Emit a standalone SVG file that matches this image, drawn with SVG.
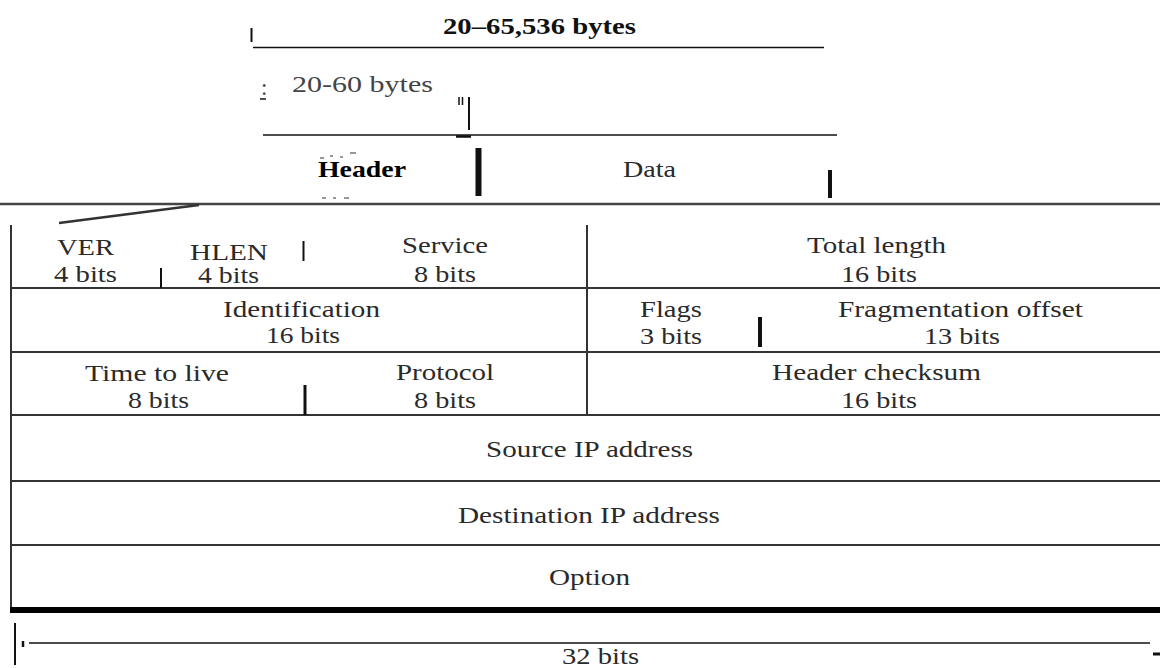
<svg xmlns="http://www.w3.org/2000/svg" width="1160" height="668" viewBox="0 0 1160 668">
<style>
text{font-family:"Liberation Serif","Times New Roman",serif;font-size:23px;fill:#2a2a2a}
.b{font-weight:bold;fill:#111}
.g{fill:#444}
.ln{stroke:#333;stroke-width:2;fill:none}
.k{stroke:#111;fill:none}
</style>
<rect width="1160" height="668" fill="#fff"/>
<g id="dimensions">
<line class="k" x1="251.5" y1="28" x2="251.5" y2="42" stroke-width="2"/>
<line class="k" x1="253" y1="47.5" x2="824" y2="47.5" stroke-width="1.5"/>
<text class="b" x="443" y="34" textLength="193" lengthAdjust="spacingAndGlyphs">20–65,536 bytes</text>
<text class="g" x="261" y="95" font-size="20">:</text>
<line class="k" x1="260" y1="99" x2="266" y2="99" stroke-width="1.5"/>
<text class="g" x="292" y="92" textLength="141" lengthAdjust="spacingAndGlyphs">20-60 bytes</text>
<line class="k" x1="459" y1="97" x2="459" y2="105" stroke-width="1.5"/>
<line class="k" x1="462.5" y1="97" x2="462.5" y2="105" stroke-width="1.5"/>
<line class="k" x1="469" y1="97" x2="469" y2="130" stroke-width="2"/>
<line class="k" x1="263" y1="135" x2="837" y2="135" stroke-width="1.5"/>
<line class="k" x1="456" y1="136.5" x2="471" y2="136.5" stroke-width="2.5"/>
</g>
<g id="datagram">
<line class="k" x1="478.5" y1="148" x2="478.5" y2="196" stroke-width="6"/>
<line class="k" x1="830" y1="170" x2="830" y2="198" stroke-width="4"/>
<g id="header-label">
<text x="318" y="177" textLength="88" lengthAdjust="spacingAndGlyphs" style="font-weight:bold;fill:#000">Header</text>
<path d="M320 158h4M330 156h3M340 157h3M350 153h6M322 198h4M333 198h3M344 198h5" stroke="#777" stroke-width="1.5" fill="none"/>
</g>
<text x="623" y="177" textLength="53" lengthAdjust="spacingAndGlyphs">Data</text>
</g>
<g id="connectors">
<line x1="0" y1="204" x2="1160" y2="204" stroke="#444" stroke-width="2.5"/>
<line x1="59" y1="223" x2="199" y2="205" stroke="#333" stroke-width="2.5"/>
</g>
<g id="frame">
<line class="ln" x1="11" y1="225" x2="11" y2="613"/>
<line class="ln" x1="587" y1="225" x2="587" y2="415"/>
<line class="ln" x1="11" y1="288" x2="1160" y2="288"/>
<line class="ln" x1="11" y1="352" x2="1160" y2="352"/>
<line class="ln" x1="11" y1="415" x2="1160" y2="415"/>
<line class="ln" x1="11" y1="481" x2="1160" y2="481"/>
<line class="ln" x1="11" y1="545" x2="1160" y2="545"/>
<line x1="10" y1="610" x2="1160" y2="610" stroke="#000" stroke-width="6"/>
<line class="k" x1="161" y1="268" x2="161" y2="288" stroke-width="2"/>
<line class="k" x1="303.5" y1="241" x2="303.5" y2="261" stroke-width="2"/>
<line class="k" x1="305" y1="385" x2="305" y2="415" stroke-width="3"/>
<line class="k" x1="760" y1="317" x2="760" y2="347" stroke-width="4"/>
</g>
<g id="ver"><text x="57" y="255" textLength="57" lengthAdjust="spacingAndGlyphs">VER</text><text x="54" y="282" textLength="63" lengthAdjust="spacingAndGlyphs">4 bits</text></g>
<g id="hlen"><text x="190" y="260" textLength="78" lengthAdjust="spacingAndGlyphs">HLEN</text><text x="198" y="283" textLength="61" lengthAdjust="spacingAndGlyphs" font-size="21">4 bits</text></g>
<g id="service"><text x="402" y="253" textLength="86" lengthAdjust="spacingAndGlyphs">Service</text><text x="414" y="282" textLength="62" lengthAdjust="spacingAndGlyphs">8 bits</text></g>
<g id="total-length"><text x="807" y="253" textLength="139" lengthAdjust="spacingAndGlyphs">Total length</text><text x="841" y="282" textLength="76" lengthAdjust="spacingAndGlyphs">16 bits</text></g>
<g id="identification"><text x="223" y="317" textLength="157" lengthAdjust="spacingAndGlyphs">Identification</text><text x="266" y="343" textLength="74" lengthAdjust="spacingAndGlyphs">16 bits</text></g>
<g id="flags"><text x="640" y="317" textLength="62" lengthAdjust="spacingAndGlyphs">Flags</text><text x="640" y="344" textLength="62" lengthAdjust="spacingAndGlyphs">3 bits</text></g>
<g id="fragmentation-offset"><text x="838" y="317" textLength="245" lengthAdjust="spacingAndGlyphs">Fragmentation offset</text><text x="924" y="344" textLength="76" lengthAdjust="spacingAndGlyphs">13 bits</text></g>
<g id="ttl"><text x="85" y="381" textLength="144" lengthAdjust="spacingAndGlyphs">Time to live</text><text x="128" y="408" textLength="61" lengthAdjust="spacingAndGlyphs">8 bits</text></g>
<g id="protocol"><text x="396" y="380" textLength="98" lengthAdjust="spacingAndGlyphs">Protocol</text><text x="414" y="408" textLength="62" lengthAdjust="spacingAndGlyphs">8 bits</text></g>
<g id="header-checksum"><text x="772" y="380" textLength="209" lengthAdjust="spacingAndGlyphs">Header checksum</text><text x="841" y="408" textLength="76" lengthAdjust="spacingAndGlyphs">16 bits</text></g>
<g id="source-ip"><text x="486" y="457" textLength="207" lengthAdjust="spacingAndGlyphs">Source IP address</text></g>
<g id="destination-ip"><text x="458" y="523" textLength="262" lengthAdjust="spacingAndGlyphs">Destination IP address</text></g>
<g id="option"><text x="549" y="585" textLength="81" lengthAdjust="spacingAndGlyphs">Option</text></g>
<g id="width-32">
<line class="k" x1="15" y1="623" x2="15" y2="665" stroke-width="2"/>
<line class="k" x1="23" y1="641" x2="23" y2="647" stroke-width="2.5"/>
<line class="k" x1="29" y1="643" x2="1150" y2="643" stroke-width="1.5"/>
<line class="k" x1="1153" y1="654" x2="1160" y2="654" stroke-width="3"/>
<text x="562" y="664" textLength="77" lengthAdjust="spacingAndGlyphs">32 bits</text>
</g>
</svg>
